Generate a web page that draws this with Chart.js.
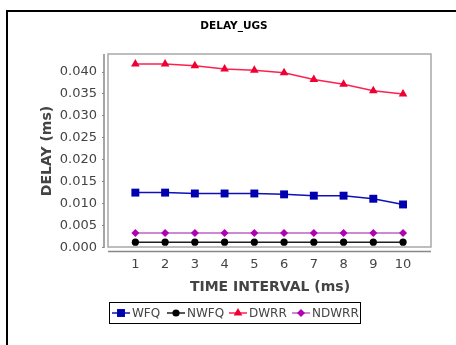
<!DOCTYPE html>
<html>
<head>
<meta charset="utf-8">
<script src="https://cdn.jsdelivr.net/npm/chart.js@4.4.0/dist/chart.umd.min.js"></script>
<style>
  html, body { margin: 0; padding: 0; background: #fff; }
  canvas { display: block; }
</style>
</head>
<body>
<canvas id="canvas" width="456" height="345"></canvas>
<script>
// time interval (ms) on the x axis
var intervals = [1, 2, 3, 4, 5, 6, 7, 8, 9, 10];
var yTicks = [0, 0.005, 0.010, 0.015, 0.020, 0.025, 0.030, 0.035, 0.040];

var wfq   = [0.0124, 0.0124, 0.0122, 0.0122, 0.0122, 0.0120, 0.0117, 0.0117, 0.0110, 0.0097];
var nwfq  = [0.0011, 0.0011, 0.0011, 0.0011, 0.0011, 0.0011, 0.0011, 0.0011, 0.0011, 0.0011];
var dwrr  = [0.0417, 0.0417, 0.0413, 0.0406, 0.0403, 0.0397, 0.0382, 0.0371, 0.0356, 0.0349];
var ndwrr = [0.0032, 0.0032, 0.0032, 0.0032, 0.0032, 0.0032, 0.0032, 0.0032, 0.0032, 0.0032];

// left edge of each legend entry
var legendX = [112, 167, 229, 292];

function pts(values) {
	return values.map(function(v, i) { return { x: intervals[i], y: v }; });
}

function series(label, values, color, lineColor, style, radius) {
	return {
		label: label,
		data: pts(values),
		borderColor: lineColor,
		backgroundColor: color,
		pointBackgroundColor: color,
		pointBorderColor: color,
		pointBorderWidth: 0,
		pointStyle: style,
		pointRadius: radius,
		pointHoverRadius: radius,
		borderWidth: 1.5,
		fill: false,
		tension: 0
	};
}

// frame, title, plot outline, axis lines, tick labels, axis titles and legend
var decor = {
	id: 'decor',
	beforeDraw: function(chart) {
		var ctx = chart.ctx;
		ctx.save();
		ctx.fillStyle = '#fff';
		ctx.fillRect(0, 0, chart.width, chart.height);
		ctx.fillStyle = '#000';
		ctx.fillRect(6, 10, chart.width - 6, 2);
		ctx.fillRect(6, 10, 2, chart.height - 10);
		ctx.restore();
	},
	beforeDatasetsDraw: function(chart) {
		var ctx = chart.ctx, a = chart.chartArea;
		var x = chart.scales.x, y = chart.scales.y;
		ctx.save();
		ctx.strokeStyle = '#a8a8a8';
		ctx.lineWidth = 1.5;
		ctx.strokeRect(a.left, a.top, a.right - a.left, a.bottom - a.top);
		// detached axis lines
		ctx.strokeStyle = '#888';
		ctx.lineWidth = 1.5;
		ctx.beginPath();
		ctx.moveTo(a.left - 4, a.top);
		ctx.lineTo(a.left - 4, a.bottom + 1);
		ctx.moveTo(a.left, a.bottom + 4.5);
		ctx.lineTo(a.right, a.bottom + 4.5);
		ctx.stroke();
		ctx.lineWidth = 1;
		ctx.beginPath();
		yTicks.forEach(function(t) {
			var py = Math.round(y.getPixelForValue(t)) + 0.5;
			ctx.moveTo(a.left - 6, py);
			ctx.lineTo(a.left - 4, py);
		});
		ctx.stroke();

		ctx.fillStyle = '#444';
		ctx.font = '13px "DejaVu Sans"';
		ctx.textBaseline = 'middle';
		ctx.textAlign = 'right';
		yTicks.forEach(function(t) {
			ctx.fillText(t.toFixed(3), a.left - 11, y.getPixelForValue(t) + 0.5);
		});
		ctx.textAlign = 'center';
		intervals.forEach(function(v) {
			ctx.fillText(String(v), x.getPixelForValue(v), a.bottom + 18);
		});
		ctx.restore();
	},
	afterDraw: function(chart) {
		var ctx = chart.ctx;
		ctx.save();
		ctx.fillStyle = '#000';
		ctx.font = 'bold 10.5px "DejaVu Sans"';
		ctx.textAlign = 'center';
		ctx.textBaseline = 'middle';
		ctx.fillText('DELAY_UGS', 234, 26);

		ctx.fillStyle = '#444';
		ctx.font = 'bold 14px "DejaVu Sans"';
		ctx.fillText('TIME INTERVAL (ms)', 270, 287);
		ctx.translate(47, 151);
		ctx.rotate(-Math.PI / 2);
		ctx.fillText('DELAY (ms)', 0, 0);
		ctx.restore();

		// legend
		ctx.save();
		ctx.strokeStyle = '#000';
		ctx.lineWidth = 1;
		ctx.strokeRect(109.5, 302.5, 251, 21);
		ctx.font = '12px "DejaVu Sans"';
		ctx.textBaseline = 'middle';
		ctx.textAlign = 'left';
		var cy = 313;
		chart.data.datasets.forEach(function(ds, i) {
			var x = legendX[i];
			ctx.strokeStyle = ds.borderColor;
			ctx.lineWidth = 1.5;
			ctx.beginPath();
			ctx.moveTo(x, cy);
			ctx.lineTo(x + 18, cy);
			ctx.stroke();
			ctx.fillStyle = ds.pointBackgroundColor;
			Chart.helpers.drawPoint(ctx, { pointStyle: ds.pointStyle, radius: ds.pointRadius, borderWidth: 0 }, x + 9, cy);
			ctx.fillStyle = '#444';
			ctx.fillText(ds.label, x + 20, cy + 0.5);
		});
		ctx.restore();
	}
};

var config = {
	type: 'line',
	data: {
		datasets: [
			series('WFQ', wfq, '#0000b0', '#1010b8', 'rect', 5.6),
			series('NWFQ', nwfq, '#000000', '#202020', 'circle', 3.6),
			series('DWRR', dwrr, '#f00032', '#ff2050', 'triangle', 5),
			series('NDWRR', ndwrr, '#b000b0', '#c060c8', 'rectRot', 4)
		]
	},
	options: {
		responsive: false,
		animation: false,
		layout: { padding: { left: 108, top: 54, right: 25, bottom: 98 } },
		plugins: {
			legend: { display: false },
			title: { display: false },
			tooltip: { enabled: false }
		},
		scales: {
			x: {
				type: 'linear',
				min: 0.08,
				max: 10.94,
				display: false
			},
			y: {
				min: 0,
				max: 0.0440,
				display: false
			}
		}
	},
	plugins: [decor]
};

window.onload = function() {
	var ctx = document.getElementById('canvas').getContext('2d');
	window.myLine = new Chart(ctx, config);
};
</script>
</body>
</html>
